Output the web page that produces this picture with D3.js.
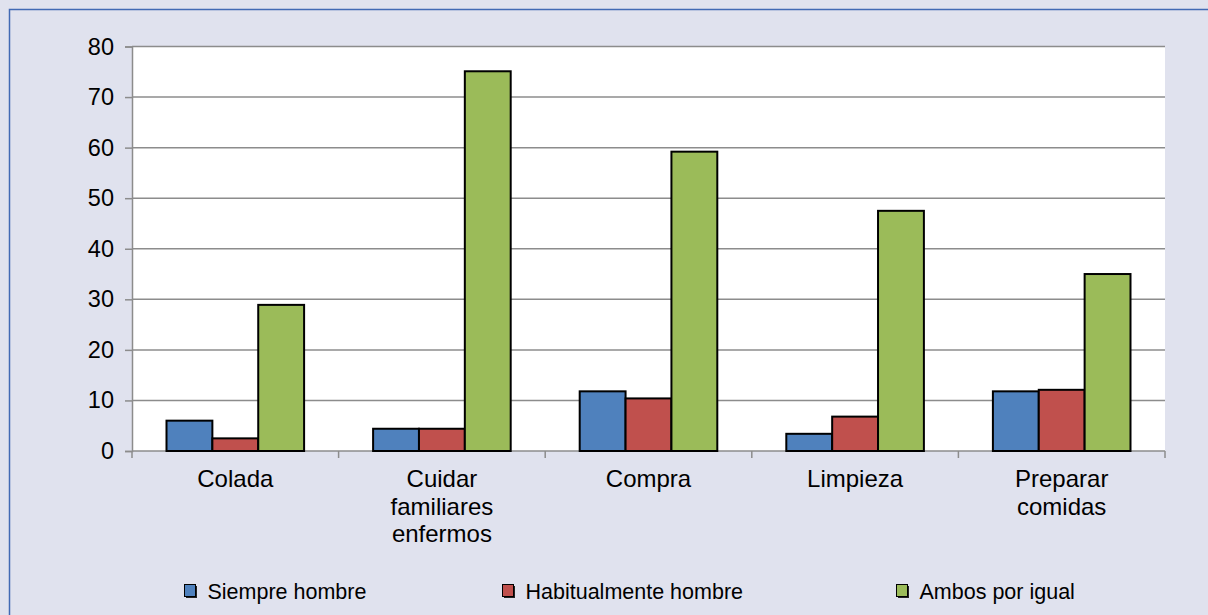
<!DOCTYPE html>
<html>
<head>
<meta charset="utf-8">
<script src="https://cdn.jsdelivr.net/npm/d3@7"></script>
<style>
  html, body { margin: 0; padding: 0; background: #E0E2EE; }
  svg { display: block; }
  text { font-family: "Liberation Sans", Arial, Helvetica, sans-serif; fill: #000; }
</style>
</head>
<body>
<svg id="chart" width="1208" height="615"></svg>
<script>
const categories = [["Colada"], ["Cuidar", "familiares", "enfermos"], ["Compra"], ["Limpieza"], ["Preparar", "comidas"]];
const seriesNames = ["Siempre hombre", "Habitualmente hombre", "Ambos por igual"];
const siempreHombre = [6.0, 4.4, 11.8, 3.4, 11.8];
const habitualmenteHombre = [2.5, 4.4, 10.4, 6.8, 12.1];
const ambosPorIgual = [28.9, 75.1, 59.2, 47.5, 35.0];
const yTicks = [0, 10, 20, 30, 40, 50, 60, 70, 80];
const colors = ["#4F81BD", "#C0504D", "#9BBB59"];

const seriesValues = [siempreHombre, habitualmenteHombre, ambosPorIgual];
const svg = d3.select("#chart");
const W = 1208, H = 615;
const plot = { left: 132, right: 1165, top: 46.5, bottom: 451 };

// background + border
svg.append("rect").attr("x", 0).attr("y", 0).attr("width", W).attr("height", H).attr("fill", "#E0E2EE");
svg.append("rect").attr("x", 9.5).attr("y", 9.5).attr("width", 1400).attr("height", 800)
  .attr("fill", "#E0E2EE").attr("stroke", "#4169B4").attr("stroke-width", 1.5);

const x0 = d3.scaleBand().domain(d3.range(categories.length))
  .range([plot.left, plot.right]).paddingInner(0.334).paddingOuter(0.167);
const x1 = d3.scaleBand().domain(d3.range(seriesNames.length)).range([0, x0.bandwidth()]).padding(0);
const y = d3.scaleLinear().domain([0, 80]).range([plot.bottom, plot.top]);

// plot area
svg.append("rect").attr("x", plot.left).attr("y", plot.top)
  .attr("width", plot.right - plot.left).attr("height", plot.bottom - plot.top).attr("fill", "#fff");

// gridlines
svg.append("g").selectAll("line").data(yTicks.filter(d => d > 0)).join("line")
  .attr("x1", plot.left).attr("x2", plot.right)
  .attr("y1", d => y(d)).attr("y2", d => y(d))
  .attr("stroke", "#8C8C8C").attr("stroke-width", 1.5);

// y axis
const yAxis = svg.append("g").attr("transform", `translate(${plot.left},0)`)
  .call(d3.axisLeft(y).tickValues(yTicks).tickSize(7).tickPadding(11).tickFormat(d3.format("d")));
yAxis.select(".domain").attr("stroke", "#8C8C8C").attr("stroke-width", 1.5);
yAxis.selectAll(".tick line").attr("stroke", "#8C8C8C").attr("stroke-width", 1.5);
yAxis.selectAll(".tick text").attr("font-size", 23.5).attr("font-family", '"Liberation Sans", Arial, sans-serif').attr("fill", "#000");

// x axis line + ticks at category boundaries
const boundaries = d3.range(categories.length + 1).map(i => plot.left + i * x0.step());
svg.append("line").attr("x1", plot.left).attr("x2", plot.right).attr("y1", plot.bottom).attr("y2", plot.bottom)
  .attr("stroke", "#8C8C8C").attr("stroke-width", 1.5);
svg.append("g").selectAll("line").data(boundaries).join("line")
  .attr("x1", d => d).attr("x2", d => d).attr("y1", plot.bottom).attr("y2", plot.bottom + 7)
  .attr("stroke", "#8C8C8C").attr("stroke-width", 1.5);

// bars
const groups = svg.append("g").selectAll("g").data(categories).join("g")
  .attr("transform", (d, i) => `translate(${x0(i)},0)`);
groups.selectAll("rect").data((d, i) => seriesValues.map((s, j) => ({ j, v: s[i] }))).join("rect")
  .attr("x", d => x1(d.j)).attr("width", x1.bandwidth())
  .attr("y", d => y(d.v)).attr("height", d => y(0) - y(d.v))
  .attr("fill", d => colors[d.j]).attr("stroke", "#000").attr("stroke-width", 2);

// category labels
const lab = svg.append("g").selectAll("text").data(categories).join("text")
  .attr("x", (d, i) => x0(i) + x0.bandwidth() / 2).attr("y", 487)
  .attr("text-anchor", "middle").attr("font-size", 24);
lab.selectAll("tspan").data(d => d).join("tspan")
  .attr("x", function () { return d3.select(this.parentNode).attr("x"); })
  .attr("dy", (d, i) => i === 0 ? 0 : 27.5).text(d => d);

// legend
const legendX = [184, 502, 896];
const leg = svg.append("g").selectAll("g").data(seriesNames).join("g")
  .attr("transform", (d, i) => `translate(${legendX[i]},584)`);
leg.append("rect").attr("x", 2).attr("y", 2).attr("width", 11).attr("height", 12).attr("fill", "#222");
leg.append("rect").attr("x", 0.5).attr("y", 0.5).attr("width", 11).attr("height", 12)
  .attr("fill", (d, i) => colors[i]).attr("stroke", "#000").attr("stroke-width", 1);
leg.append("text").attr("x", 23.5).attr("y", 14.5).attr("font-size", 21.5).text(d => d);
</script>
</body>
</html>
